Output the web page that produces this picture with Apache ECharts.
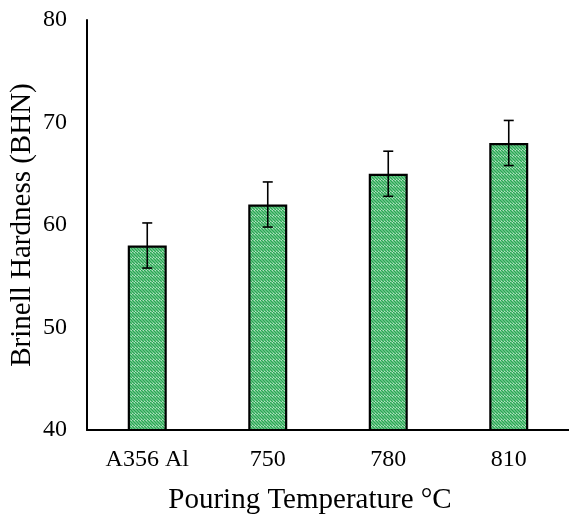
<!DOCTYPE html>
<html><head><meta charset="utf-8">
<script src="https://cdn.jsdelivr.net/npm/echarts@6/dist/echarts.min.js"></script>
<style>html,body{margin:0;padding:0;background:#fff}#c{width:569px;height:515px}</style>
</head><body><div id="c"></div>
<script>
const categories = ['A356 Al', '750', '780', '810'];
const hardness = [58, 62, 65, 68];
const errors = [2.2, 2.2, 2.2, 2.2];

function stripe() {
  const c = document.createElement('canvas');
  c.width = 6; c.height = 6;
  const g = c.getContext('2d');
  g.fillStyle = '#ffffff'; g.fillRect(0, 0, 6, 6);
  g.strokeStyle = '#27a852'; g.lineWidth = 1.7;
  for (let k = -6; k <= 12; k += 3) {
    g.beginPath(); g.moveTo(k, 0); g.lineTo(k + 6, 6); g.stroke();
  }
  return c;
}

const chart = echarts.init(document.getElementById('c'));
const font = '"Liberation Serif", "Times New Roman", serif';
chart.setOption({
  animation: false,
  grid: { left: 87, right: 0, top: 20, bottom: 85, containLabel: false, outerBoundsMode: 'none' },
  xAxis: {
    type: 'category', data: categories,
    axisLine: { lineStyle: { color: '#000', width: 2 } },
    axisTick: { show: false },
    axisLabel: { color: '#000', fontFamily: font, fontSize: 24, margin: 18 },
    name: 'Pouring Temperature \u00B0C', nameLocation: 'middle', nameGap: 56, nameMoveOverlap: false,
    nameTextStyle: { color: '#000', fontFamily: font, fontSize: 29, padding: [0, 36, 0, 0] }
  },
  yAxis: {
    type: 'value', min: 40, max: 80, interval: 10,
    axisLine: { show: true, lineStyle: { color: '#000', width: 2 } },
    axisTick: { show: false },
    splitLine: { show: false },
    axisLabel: { color: '#000', fontFamily: font, fontSize: 24, margin: 20 },
    name: 'Brinell Hardness (BHN)', nameLocation: 'middle', nameGap: 50, nameMoveOverlap: false,
    nameTextStyle: { color: '#000', fontFamily: font, fontSize: 29 }
  },
  series: [{
    type: 'bar', data: hardness, barWidth: 39,
    itemStyle: { color: { image: stripe(), repeat: 'repeat' }, borderColor: '#000', borderWidth: 2.2 }
  }, {
    type: 'custom',
    data: hardness.map((v, i) => [i, v - errors[i], v + errors[i]]),
    renderItem: function (params, api) {
      const lo = api.coord([api.value(0), api.value(1)]);
      const hi = api.coord([api.value(0), api.value(2)]);
      const w = 5;
      const st = { stroke: '#000', lineWidth: 1.6 };
      return { type: 'group', children: [
        { type: 'line', shape: { x1: hi[0], y1: hi[1], x2: lo[0], y2: lo[1] }, style: st },
        { type: 'line', shape: { x1: hi[0] - w, y1: hi[1], x2: hi[0] + w, y2: hi[1] }, style: st },
        { type: 'line', shape: { x1: lo[0] - w, y1: lo[1], x2: lo[0] + w, y2: lo[1] }, style: st }
      ]};
    },
    z: 10
  }]
});
</script></body></html>
